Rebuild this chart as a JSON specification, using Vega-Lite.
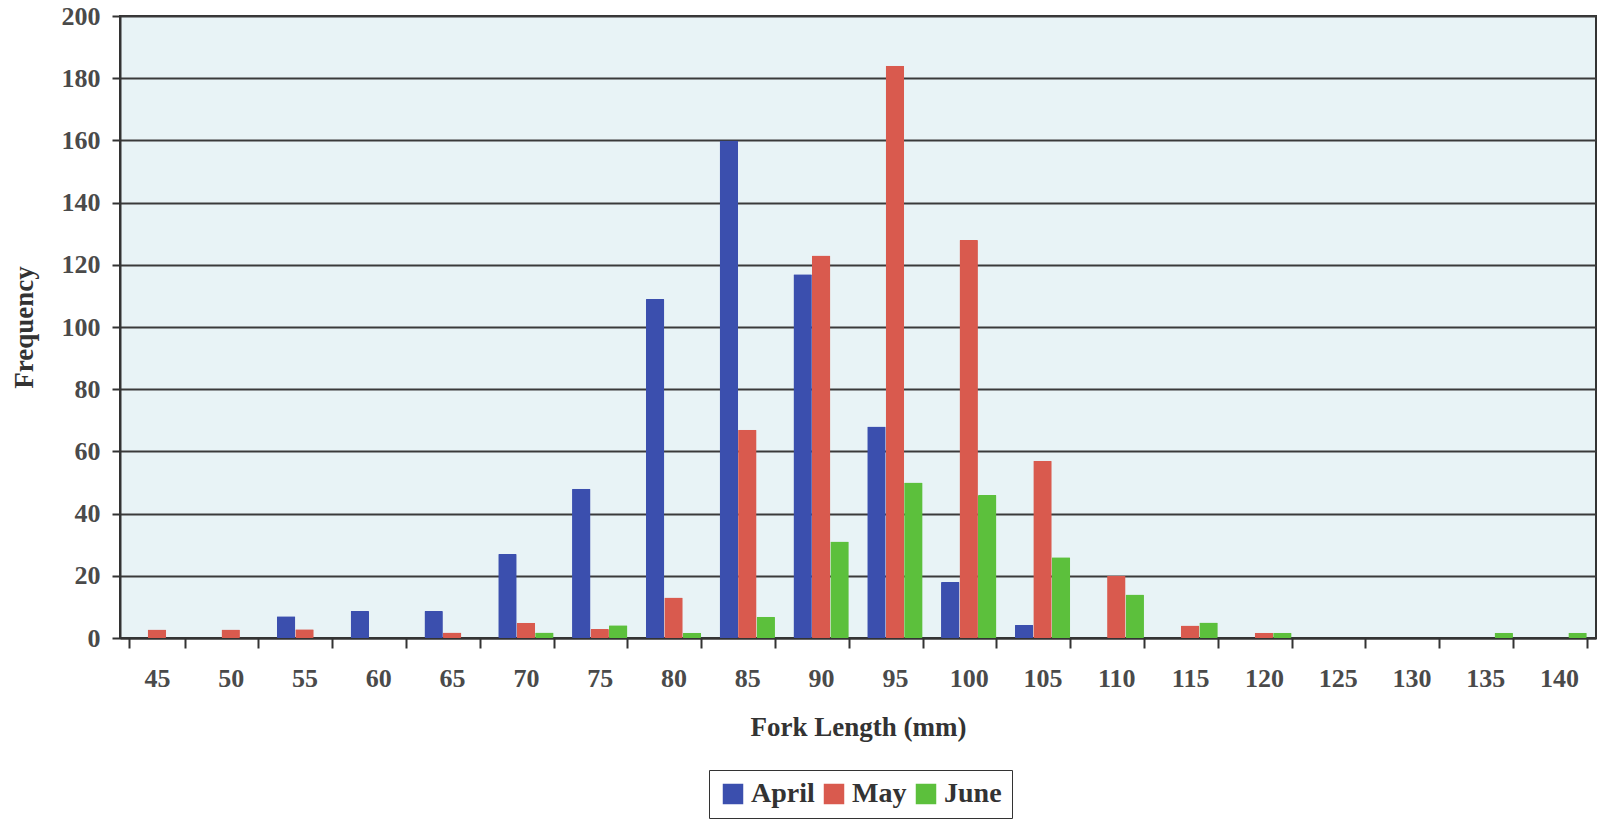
{
  "$schema": "https://vega.github.io/schema/vega-lite/v6.json",
  "autosize": "none",
  "width": 1476,
  "height": 622,
  "padding": {"left": 120, "top": 16, "right": 10, "bottom": 187},
  "background": "#ffffff",
  "config": {
    "view": {"fill": "#e8f3f6", "stroke": "#333333", "strokeWidth": 2},
    "font": "Liberation Serif",
    "legend": {
      "strokeColor": "#333333",
      "padding": 10,
      "fillColor": "#ffffff"
    }
  },
  "data": {
    "values": [
      {"fork": 45, "month": "April", "freq": 0}, {"fork": 45, "month": "May", "freq": 2.7}, {"fork": 45, "month": "June", "freq": 0},
      {"fork": 50, "month": "April", "freq": 0}, {"fork": 50, "month": "May", "freq": 2.7}, {"fork": 50, "month": "June", "freq": 0},
      {"fork": 55, "month": "April", "freq": 7}, {"fork": 55, "month": "May", "freq": 2.8}, {"fork": 55, "month": "June", "freq": 0},
      {"fork": 60, "month": "April", "freq": 8.7}, {"fork": 60, "month": "May", "freq": 0}, {"fork": 60, "month": "June", "freq": 0},
      {"fork": 65, "month": "April", "freq": 8.7}, {"fork": 65, "month": "May", "freq": 1.8}, {"fork": 65, "month": "June", "freq": 0},
      {"fork": 70, "month": "April", "freq": 27}, {"fork": 70, "month": "May", "freq": 4.9}, {"fork": 70, "month": "June", "freq": 1.8},
      {"fork": 75, "month": "April", "freq": 48}, {"fork": 75, "month": "May", "freq": 2.9}, {"fork": 75, "month": "June", "freq": 4.1},
      {"fork": 80, "month": "April", "freq": 109}, {"fork": 80, "month": "May", "freq": 13}, {"fork": 80, "month": "June", "freq": 1.7},
      {"fork": 85, "month": "April", "freq": 160}, {"fork": 85, "month": "May", "freq": 67}, {"fork": 85, "month": "June", "freq": 6.8},
      {"fork": 90, "month": "April", "freq": 117}, {"fork": 90, "month": "May", "freq": 123}, {"fork": 90, "month": "June", "freq": 31},
      {"fork": 95, "month": "April", "freq": 68}, {"fork": 95, "month": "May", "freq": 184}, {"fork": 95, "month": "June", "freq": 50},
      {"fork": 100, "month": "April", "freq": 18}, {"fork": 100, "month": "May", "freq": 128}, {"fork": 100, "month": "June", "freq": 46},
      {"fork": 105, "month": "April", "freq": 4.2}, {"fork": 105, "month": "May", "freq": 57}, {"fork": 105, "month": "June", "freq": 26},
      {"fork": 110, "month": "April", "freq": 0}, {"fork": 110, "month": "May", "freq": 20}, {"fork": 110, "month": "June", "freq": 14},
      {"fork": 115, "month": "April", "freq": 0}, {"fork": 115, "month": "May", "freq": 4}, {"fork": 115, "month": "June", "freq": 5},
      {"fork": 120, "month": "April", "freq": 0}, {"fork": 120, "month": "May", "freq": 1.7}, {"fork": 120, "month": "June", "freq": 1.7},
      {"fork": 125, "month": "April", "freq": 0}, {"fork": 125, "month": "May", "freq": 0}, {"fork": 125, "month": "June", "freq": 0},
      {"fork": 130, "month": "April", "freq": 0}, {"fork": 130, "month": "May", "freq": 0}, {"fork": 130, "month": "June", "freq": 0},
      {"fork": 135, "month": "April", "freq": 0}, {"fork": 135, "month": "May", "freq": 0}, {"fork": 135, "month": "June", "freq": 1.7},
      {"fork": 140, "month": "April", "freq": 0}, {"fork": 140, "month": "May", "freq": 0}, {"fork": 140, "month": "June", "freq": 1.7}
    ]
  },
  "mark": {"type": "bar", "cornerRadius": 1},
  "encoding": {
    "x": {
      "field": "fork",
      "type": "ordinal",
      "scale": {"paddingInner": 0.25, "paddingOuter": 0.125},
      "axis": {
        "title": "Fork Length (mm)",
        "labelAngle": 0,
        "labelFont": "Liberation Serif",
        "labelFontSize": 26,
        "labelFontWeight": "bold",
        "labelColor": "#4a4a4a",
        "labelPadding": 17,
        "tickBand": "extent",
        "tickSize": 10,
        "tickColor": "#333333",
        "tickWidth": 2,
        "domainColor": "#333333",
        "domainWidth": 2,
        "titleFont": "Liberation Serif",
        "titleFontSize": 27,
        "titleFontWeight": "bold",
        "titleColor": "#333333",
        "titlePadding": 23,
        "grid": false
      }
    },
    "xOffset": {
      "field": "month",
      "type": "nominal",
      "scale": {"domain": ["April", "May", "June"], "paddingInner": 0, "paddingOuter": 0}
    },
    "y": {
      "field": "freq",
      "type": "quantitative",
      "scale": {"domain": [0, 200], "nice": false},
      "axis": {
        "title": "Frequency",
        "values": [0, 20, 40, 60, 80, 100, 120, 140, 160, 180, 200],
        "labelFont": "Liberation Serif",
        "labelFontSize": 26,
        "labelFontWeight": "bold",
        "labelColor": "#4a4a4a",
        "labelPadding": 12,
        "tickSize": 8,
        "tickColor": "#333333",
        "tickWidth": 2,
        "domainColor": "#333333",
        "domainWidth": 2,
        "grid": true,
        "gridColor": "#3a3a3a",
        "gridWidth": 2,
        "gridOpacity": 1,
        "titleFont": "Liberation Serif",
        "titleFontSize": 27,
        "titleFontWeight": "bold",
        "titleColor": "#333333",
        "titlePadding": 23
      }
    },
    "color": {
      "field": "month",
      "type": "nominal",
      "scale": {"domain": ["April", "May", "June"], "range": ["#3b4fae", "#d95a4e", "#5cc03c"]},
      "legend": {
        "title": null,
        "orient": "none",
        "direction": "horizontal",
        "legendX": 589,
        "legendY": 754,
        "symbolType": "square",
        "symbolSize": 420,
        "symbolOpacity": 1,
        "symbolStrokeWidth": 0,
        "labelFont": "Liberation Serif",
        "labelFontSize": 28,
        "labelFontWeight": "bold",
        "labelColor": "#333333",
        "labelOffset": 4,
        "columnPadding": 5
      }
    }
  }
}
